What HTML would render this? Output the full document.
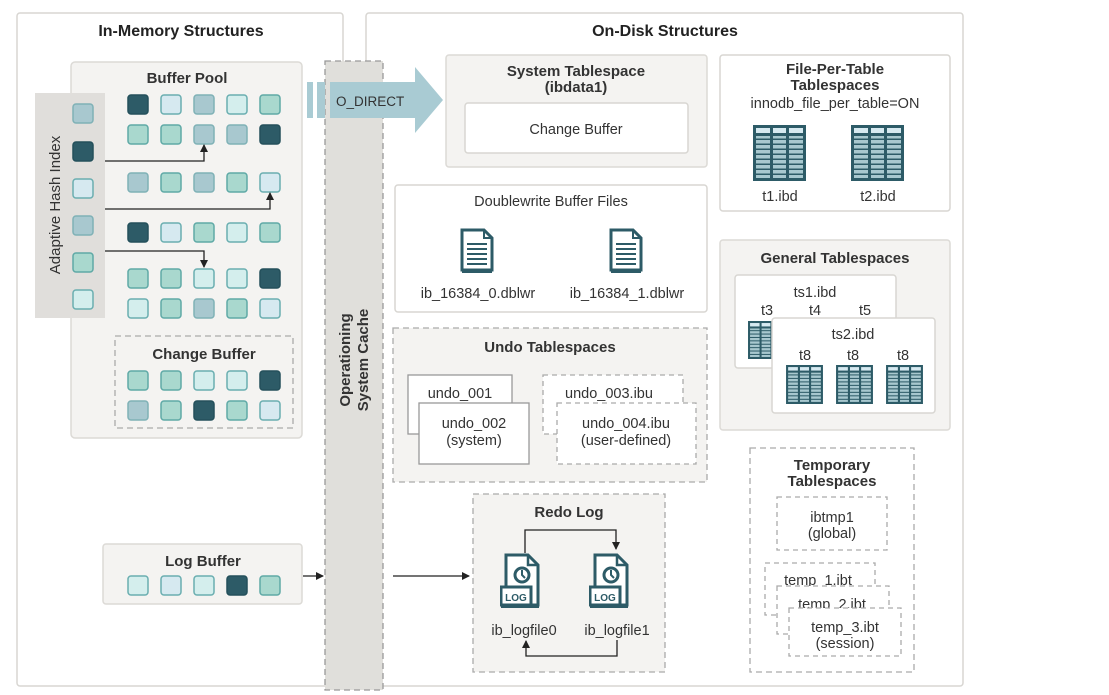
<!DOCTYPE html>
<html><head><meta charset="utf-8"><style>
html,body{margin:0;padding:0;background:#fff;}
svg{display:block;font-family:"Liberation Sans",sans-serif;}
.t{font-weight:bold;font-size:16px;fill:#222;text-anchor:middle}
.h{font-weight:bold;font-size:15px;fill:#333;text-anchor:middle}
.l{font-size:14.5px;fill:#333;text-anchor:middle}
</style></head><body>
<svg width="1109" height="695" viewBox="0 0 1109 695" xmlns="http://www.w3.org/2000/svg">
<defs>
<marker id="ar" markerWidth="8" markerHeight="8" refX="7" refY="4" orient="auto" markerUnits="userSpaceOnUse"><path d="M0,0 L8,4 L0,8 z" fill="#222"/></marker>
<pattern id="rows" width="15" height="5" patternUnits="userSpaceOnUse"><rect width="15" height="5" fill="#a8c8cf"/><rect y="3.5" width="15" height="1.5" fill="#2d5b67"/></pattern>
<symbol id="tbl" viewBox="0 0 53 56">
<rect width="53" height="56" fill="#2d5b67"/>
<rect x="3" y="3" width="14" height="5" fill="#d6e9f0"/><rect x="20" y="3" width="13" height="5" fill="#d6e9f0"/><rect x="36" y="3" width="14" height="5" fill="#d6e9f0"/>
<rect x="3" y="11" width="14" height="42" fill="url(#rows)"/><rect x="20" y="11" width="13" height="42" fill="url(#rows)"/><rect x="36" y="11" width="14" height="42" fill="url(#rows)"/>
</symbol>
<symbol id="doc" viewBox="0 0 34 46">
<path d="M2,2 H24 L32,10 V42 H2 Z" fill="#fff" stroke="#2d5b67" stroke-width="3"/>
<path d="M24,2 V10 H32" fill="none" stroke="#2d5b67" stroke-width="2"/>
<g stroke="#2d5b67" stroke-width="2"><line x1="7" y1="16" x2="27" y2="16"/><line x1="7" y1="21" x2="27" y2="21"/><line x1="7" y1="26" x2="27" y2="26"/><line x1="7" y1="31" x2="27" y2="31"/><line x1="7" y1="36" x2="27" y2="36"/></g>
<rect x="2" y="42" width="30" height="3" fill="#2d5b67"/>
</symbol>
<symbol id="log" viewBox="0 0 40 56">
<path d="M6,2 H28 L38,12 V52 H6 Z" fill="#fff" stroke="#2d5b67" stroke-width="3"/>
<path d="M28,2 V12 H38" fill="none" stroke="#2d5b67" stroke-width="2.5"/>
<circle cx="22" cy="22" r="7" fill="none" stroke="#2d5b67" stroke-width="3"/>
<path d="M22,17 V22 L25,25" fill="none" stroke="#2d5b67" stroke-width="2"/>
<rect x="1" y="34" width="30" height="18" fill="#fff" stroke="#2d5b67" stroke-width="3"/>
<text x="16" y="48" font-size="10" font-weight="bold" fill="#2d5b67" text-anchor="middle" font-family="Liberation Sans,sans-serif">LOG</text>
<rect x="1" y="52" width="38" height="3" fill="#2d5b67"/>
</symbol>
<symbol id="D" viewBox="0 0 22 21"><rect x="1" y="1" width="20" height="19" rx="3" fill="#2d5b67" stroke="#24505b" stroke-width="1.5"/></symbol>
<symbol id="B" viewBox="0 0 22 21"><rect x="1" y="1" width="20" height="19" rx="3" fill="#d6e9f0" stroke="#6aaeb0" stroke-width="1.5"/></symbol>
<symbol id="G" viewBox="0 0 22 21"><rect x="1" y="1" width="20" height="19" rx="3" fill="#a8c8cf" stroke="#7fb1b6" stroke-width="1.5"/></symbol>
<symbol id="P" viewBox="0 0 22 21"><rect x="1" y="1" width="20" height="19" rx="3" fill="#d4eeed" stroke="#6aaeb0" stroke-width="1.5"/></symbol>
<symbol id="T" viewBox="0 0 22 21"><rect x="1" y="1" width="20" height="19" rx="3" fill="#a9d8ce" stroke="#5fa9a6" stroke-width="1.5"/></symbol>
</defs>

<!-- Left panel -->
<rect x="17" y="13" width="326" height="673" rx="3" fill="#fff" stroke="#d8d6d2" stroke-width="1.5"/>
<text class="t" x="181" y="36">In-Memory Structures</text>
<rect x="71" y="62" width="231" height="376" rx="4" fill="#f4f3f1" stroke="#dcdad6" stroke-width="1.5"/>
<text class="h" x="187" y="83">Buffer Pool</text>
<rect x="35" y="93" width="70" height="225" fill="#e0dedb"/>
<text class="l" x="0" y="0" transform="translate(60,205) rotate(-90)" style="font-size:15px">Adaptive Hash Index</text>
<g>
<use href="#G" x="72" y="103" width="22" height="21"/>
<use href="#D" x="72" y="141" width="22" height="21"/>
<use href="#B" x="72" y="178" width="22" height="21"/>
<use href="#G" x="72" y="215" width="22" height="21"/>
<use href="#T" x="72" y="252" width="22" height="21"/>
<use href="#P" x="72" y="289" width="22" height="21"/>
</g>
<g>
<use href="#D" x="127" y="94" width="22" height="21"/><use href="#B" x="160" y="94" width="22" height="21"/><use href="#G" x="193" y="94" width="22" height="21"/><use href="#P" x="226" y="94" width="22" height="21"/><use href="#T" x="259" y="94" width="22" height="21"/>
<use href="#T" x="127" y="124" width="22" height="21"/><use href="#T" x="160" y="124" width="22" height="21"/><use href="#G" x="193" y="124" width="22" height="21"/><use href="#G" x="226" y="124" width="22" height="21"/><use href="#D" x="259" y="124" width="22" height="21"/>
<use href="#G" x="127" y="172" width="22" height="21"/><use href="#T" x="160" y="172" width="22" height="21"/><use href="#G" x="193" y="172" width="22" height="21"/><use href="#T" x="226" y="172" width="22" height="21"/><use href="#B" x="259" y="172" width="22" height="21"/>
<use href="#D" x="127" y="222" width="22" height="21"/><use href="#B" x="160" y="222" width="22" height="21"/><use href="#T" x="193" y="222" width="22" height="21"/><use href="#P" x="226" y="222" width="22" height="21"/><use href="#T" x="259" y="222" width="22" height="21"/>
<use href="#T" x="127" y="268" width="22" height="21"/><use href="#T" x="160" y="268" width="22" height="21"/><use href="#P" x="193" y="268" width="22" height="21"/><use href="#P" x="226" y="268" width="22" height="21"/><use href="#D" x="259" y="268" width="22" height="21"/>
<use href="#P" x="127" y="298" width="22" height="21"/><use href="#T" x="160" y="298" width="22" height="21"/><use href="#G" x="193" y="298" width="22" height="21"/><use href="#T" x="226" y="298" width="22" height="21"/><use href="#B" x="259" y="298" width="22" height="21"/>
</g>
<g fill="none" stroke="#222" stroke-width="1.3">
<path d="M105,161 H204 V145" marker-end="url(#ar)"/>
<path d="M105,209 H270 V193" marker-end="url(#ar)"/>
<path d="M105,251 H204 V267" marker-end="url(#ar)"/>
</g>
<rect x="115" y="336" width="178" height="92" fill="none" stroke="#aaa" stroke-width="1.3" stroke-dasharray="6,4"/>
<text class="h" x="204" y="359">Change Buffer</text>
<use href="#T" x="127" y="370" width="22" height="21"/><use href="#T" x="160" y="370" width="22" height="21"/><use href="#P" x="193" y="370" width="22" height="21"/><use href="#P" x="226" y="370" width="22" height="21"/><use href="#D" x="259" y="370" width="22" height="21"/>
<use href="#G" x="127" y="400" width="22" height="21"/><use href="#T" x="160" y="400" width="22" height="21"/><use href="#D" x="193" y="400" width="22" height="21"/><use href="#T" x="226" y="400" width="22" height="21"/><use href="#B" x="259" y="400" width="22" height="21"/>

<rect x="103" y="544" width="199" height="60" rx="3" fill="#f4f3f1" stroke="#dcdad6" stroke-width="1.5"/>
<text class="h" x="203" y="566">Log Buffer</text>
<use href="#P" x="127" y="575" width="22" height="21"/><use href="#B" x="160" y="575" width="22" height="21"/><use href="#P" x="193" y="575" width="22" height="21"/><use href="#D" x="226" y="575" width="22" height="21"/><use href="#T" x="259" y="575" width="22" height="21"/>
<path d="M303,576 H323" stroke="#222" stroke-width="1.3" marker-end="url(#ar)"/>

<!-- Right panel -->
<rect x="366" y="13" width="597" height="673" rx="3" fill="#fff" stroke="#d8d6d2" stroke-width="1.5"/>
<text class="t" x="665" y="36">On-Disk Structures</text>

<!-- OS cache -->
<rect x="325" y="61" width="58" height="629" fill="#e0dfdb" stroke="#999" stroke-width="1.3" stroke-dasharray="6,4"/>
<text class="h" transform="translate(350,360) rotate(-90)" style="font-size:15px">Operationing</text>
<text class="h" transform="translate(368,360) rotate(-90)" style="font-size:15px">System Cache</text>

<!-- O_DIRECT arrow -->
<rect x="307" y="82" width="6" height="36" fill="#a9cbd3"/>
<rect x="317" y="82" width="8" height="36" fill="#a9cbd3"/>
<path d="M330,82 H415 V67 L443,100 L415,133 V118 H330 Z" fill="#a9cbd3"/>
<text x="336" y="106" font-size="13.5" fill="#333">O_DIRECT</text>

<!-- System Tablespace -->
<rect x="446" y="55" width="261" height="112" rx="3" fill="#f4f3f1" stroke="#dcdad6" stroke-width="1.5"/>
<text class="h" x="576" y="76">System Tablespace</text>
<text class="h" x="576" y="92">(ibdata1)</text>
<rect x="465" y="103" width="223" height="50" rx="3" fill="#fff" stroke="#d8d6d2" stroke-width="1.5"/>
<text class="l" x="576" y="134">Change Buffer</text>

<!-- Doublewrite -->
<rect x="395" y="185" width="312" height="127" rx="3" fill="#fff" stroke="#d8d6d2" stroke-width="1.5"/>
<text class="l" x="551" y="206">Doublewrite Buffer Files</text>
<use href="#doc" x="460" y="228" width="34" height="46"/>
<use href="#doc" x="609" y="228" width="34" height="46"/>
<text class="l" x="478" y="298">ib_16384_0.dblwr</text>
<text class="l" x="627" y="298">ib_16384_1.dblwr</text>

<!-- Undo -->
<rect x="393" y="328" width="314" height="154" fill="#f4f3f1" stroke="#aaa" stroke-width="1.3" stroke-dasharray="6,4"/>
<text class="h" x="550" y="352">Undo Tablespaces</text>
<rect x="408" y="375" width="104" height="59" fill="#fff" stroke="#999" stroke-width="1.3"/>
<text class="l" x="460" y="398">undo_001</text>
<rect x="419" y="403" width="110" height="61" fill="#fff" stroke="#999" stroke-width="1.3"/>
<text class="l" x="474" y="428">undo_002</text>
<text class="l" x="474" y="445">(system)</text>
<rect x="543" y="375" width="140" height="59" fill="#fff" stroke="#aaa" stroke-width="1.3" stroke-dasharray="5,4"/>
<text class="l" x="609" y="398">undo_003.ibu</text>
<rect x="557" y="403" width="139" height="61" fill="#fff" stroke="#aaa" stroke-width="1.3" stroke-dasharray="5,4"/>
<text class="l" x="626" y="428">undo_004.ibu</text>
<text class="l" x="626" y="445">(user-defined)</text>

<!-- Redo -->
<rect x="473" y="494" width="192" height="178" fill="#f4f3f1" stroke="#aaa" stroke-width="1.3" stroke-dasharray="6,4"/>
<text class="h" x="569" y="517">Redo Log</text>
<use href="#log" x="500" y="553" width="40" height="56"/>
<use href="#log" x="589" y="553" width="40" height="56"/>
<text class="l" x="524" y="635">ib_logfile0</text>
<text class="l" x="617" y="635">ib_logfile1</text>
<g fill="none" stroke="#222" stroke-width="1.3">
<path d="M525,553 V530 H616 V549" marker-end="url(#ar)"/>
<path d="M617,640 V656 H526 V641" marker-end="url(#ar)"/>
<path d="M393,576 H469" marker-end="url(#ar)"/>
</g>

<!-- File per table -->
<rect x="720" y="55" width="230" height="156" rx="3" fill="#fff" stroke="#d8d6d2" stroke-width="1.5"/>
<text class="h" x="835" y="74">File-Per-Table</text>
<text class="h" x="835" y="90">Tablespaces</text>
<text class="l" x="835" y="108">innodb_file_per_table=ON</text>
<use href="#tbl" x="753" y="125" width="53" height="56"/>
<use href="#tbl" x="851" y="125" width="53" height="56"/>
<text class="l" x="780" y="201">t1.ibd</text>
<text class="l" x="878" y="201">t2.ibd</text>

<!-- General -->
<rect x="720" y="240" width="230" height="190" rx="3" fill="#f4f3f1" stroke="#dcdad6" stroke-width="1.5"/>
<text class="h" x="835" y="263">General Tablespaces</text>
<rect x="735" y="275" width="161" height="93" rx="3" fill="#fff" stroke="#d8d6d2" stroke-width="1.5"/>
<text class="l" x="815" y="297">ts1.ibd</text>
<text class="l" x="767" y="315">t3</text><text class="l" x="815" y="315">t4</text><text class="l" x="865" y="315">t5</text>
<use href="#tbl" x="745" y="321" width="42" height="38"/>
<rect x="772" y="318" width="163" height="95" rx="3" fill="#fff" stroke="#d8d6d2" stroke-width="1.5"/>
<text class="l" x="853" y="339">ts2.ibd</text>
<text class="l" x="805" y="360">t8</text><text class="l" x="853" y="360">t8</text><text class="l" x="903" y="360">t8</text>
<use href="#tbl" x="783" y="365" width="43" height="39"/>
<use href="#tbl" x="833" y="365" width="43" height="39"/>
<use href="#tbl" x="883" y="365" width="43" height="39"/>

<!-- Temporary -->
<rect x="750" y="448" width="164" height="224" fill="#fff" stroke="#aaa" stroke-width="1.3" stroke-dasharray="6,4"/>
<text class="h" x="832" y="470">Temporary</text>
<text class="h" x="832" y="486">Tablespaces</text>
<rect x="777" y="497" width="110" height="53" fill="#fff" stroke="#aaa" stroke-width="1.3" stroke-dasharray="5,4"/>
<text class="l" x="832" y="522">ibtmp1</text>
<text class="l" x="832" y="538">(global)</text>
<rect x="765" y="563" width="110" height="52" fill="#fff" stroke="#aaa" stroke-width="1.3" stroke-dasharray="5,4"/>
<text class="l" x="818" y="585">temp_1.ibt</text>
<rect x="777" y="586" width="112" height="48" fill="#fff" stroke="#aaa" stroke-width="1.3" stroke-dasharray="5,4"/>
<text class="l" x="832" y="609">temp_2.ibt</text>
<rect x="789" y="608" width="112" height="48" fill="#fff" stroke="#aaa" stroke-width="1.3" stroke-dasharray="5,4"/>
<text class="l" x="845" y="632">temp_3.ibt</text>
<text class="l" x="845" y="648">(session)</text>
</svg>
</body></html>
